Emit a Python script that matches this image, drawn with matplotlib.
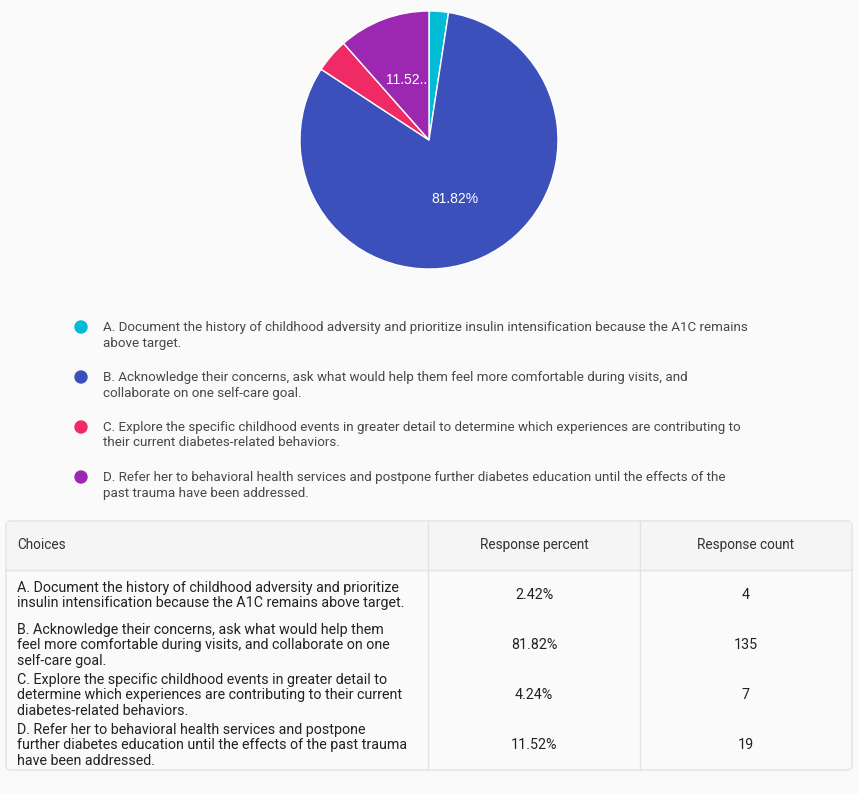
import matplotlib.pyplot as plt
from matplotlib.patches import FancyBboxPatch, Rectangle, Circle

plt.rcParams['font.family'] = ['Roboto', 'DejaVu Sans']

# survey data
choices = [
    "A. Document the history of childhood adversity and prioritize insulin intensification because the A1C remains\nabove target.",
    "B. Acknowledge their concerns, ask what would help them feel more comfortable during visits, and\ncollaborate on one self-care goal.",
    "C. Explore the specific childhood events in greater detail to determine which experiences are contributing to\ntheir current diabetes-related behaviors.",
    "D. Refer her to behavioral health services and postpone further diabetes education until the effects of the\npast trauma have been addressed.",
]
table_choices = [
    "A. Document the history of childhood adversity and prioritize\ninsulin intensification because the A1C remains above target.",
    "B. Acknowledge their concerns, ask what would help them\nfeel more comfortable during visits, and collaborate on one\nself-care goal.",
    "C. Explore the specific childhood events in greater detail to\ndetermine which experiences are contributing to their current\ndiabetes-related behaviors.",
    "D. Refer her to behavioral health services and postpone\nfurther diabetes education until the effects of the past trauma\nhave been addressed.",
]
percents = [2.42, 81.82, 4.24, 11.52]
counts = [4, 135, 7, 19]
slice_labels = ["", "81.82%", "", "11.52.."]
colors = ["#00bcd4", "#3b50bb", "#f02a65", "#9c27b0"]

W, H = 859, 794
bg = "#fafafa"
fig = plt.figure(figsize=(W / 100, H / 100), dpi=100, facecolor=bg)

# page axes in pixel units
ax = fig.add_axes([0, 0, 1, 1])
ax.set_xlim(0, W)
ax.set_ylim(H, 0)
ax.axis("off")

# pie
cx, cy, r = 429, 140, 129
pax = fig.add_axes([(cx - r) / W, 1 - (cy + r) / H, 2 * r / W, 2 * r / H])
wedges, texts = pax.pie(percents, colors=colors, startangle=90, counterclock=False,
                        labels=slice_labels, labeldistance=0.5,
                        wedgeprops=dict(edgecolor="white", linewidth=1),
                        textprops=dict(color="white", fontsize=10,
                                       family=["Liberation Sans", "DejaVu Sans"]))
for t in texts:
    t.set_ha("center")
    t.set_va("center")
pax.set_xlim(-1, 1)
pax.set_ylim(-1, 1)
pax.set_aspect("equal")
pax.axis("off")

# legend
for i, (label, c) in enumerate(zip(choices, colors)):
    y = 327 + 50 * i
    ax.add_patch(Circle((81, y), 6, color=c))
    ax.text(103, y - 6, label, fontsize=9.6, color="#474747", va="top", linespacing=1.25)

# table
tx0, tx1, ty0, ty1 = 6, 852, 521, 770
col1, col2 = 428, 640
ax.add_patch(FancyBboxPatch((tx0, ty0), tx1 - tx0, ty1 - ty0,
                            boxstyle="round,pad=0,rounding_size=5",
                            facecolor=bg, edgecolor="#e3e3e3", linewidth=1))
ax.add_patch(Rectangle((tx0 + 1, ty0 + 1), tx1 - tx0 - 2, 49, facecolor="#f5f5f5", edgecolor="none"))
ax.plot([tx0, tx1], [570, 570], color="#e3e3e3", lw=1)
ax.plot([col1, col1], [ty0, ty1], color="#e3e3e3", lw=1)
ax.plot([col2, col2], [ty0, ty1], color="#e3e3e3", lw=1)

ax.text(17, 545, "Choices", fontsize=9.8, color="#333333", va="center")
ax.text((col1 + col2) / 2, 545, "Response percent", fontsize=9.8, color="#333333", va="center", ha="center")
ax.text((col2 + tx1) / 2, 545, "Response count", fontsize=9.8, color="#333333", va="center", ha="center")

row_tops = [581, 623, 673, 723]
row_mid = [595, 645, 695, 745]
for i in range(4):
    ax.text(17, row_tops[i], table_choices[i], fontsize=10.3, color="#222222", va="top", linespacing=1.12)
    ax.text((col1 + col2) / 2, row_mid[i], f"{percents[i]:.2f}%", fontsize=10.3, color="#222222",
            va="center", ha="center")
    ax.text((col2 + tx1) / 2, row_mid[i], str(counts[i]), fontsize=10.3, color="#222222",
            va="center", ha="center")

fig.savefig("out.png", dpi=100, facecolor=bg)
